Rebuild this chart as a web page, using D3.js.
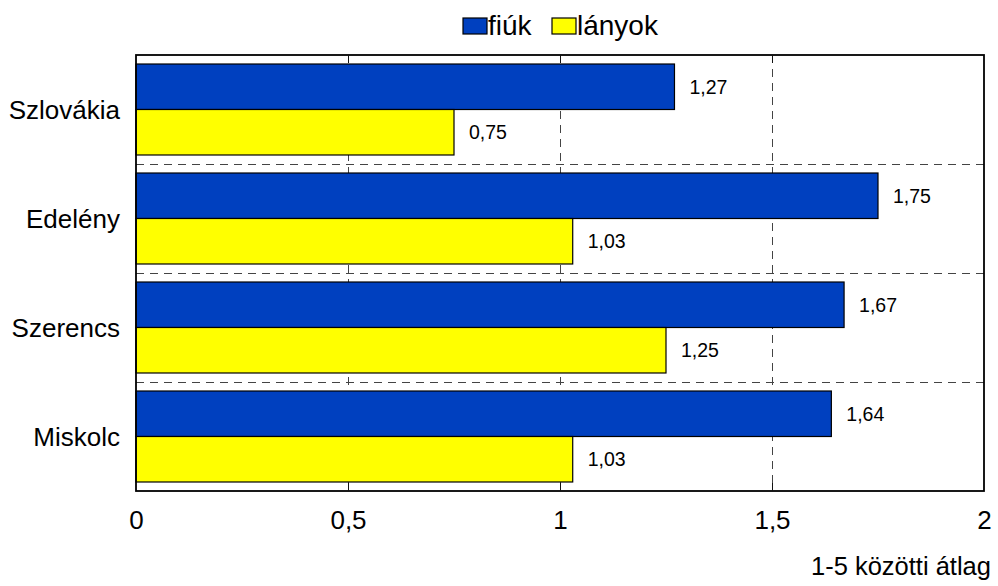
<!DOCTYPE html>
<html>
<head>
<meta charset="utf-8">
<script src="https://cdn.jsdelivr.net/npm/d3@7"></script>
<style>
  html, body { margin: 0; padding: 0; background: #fff; }
  svg { display: block; font-family: Arial, "Liberation Sans", sans-serif; }
</style>
</head>
<body>
<svg id="chart" width="998" height="586"></svg>
<script>
const categories = ["Szlovákia", "Edelény", "Szerencs", "Miskolc"];
const seriesNames = ["fiúk", "lányok"];
const fiuk = [1.27, 1.75, 1.67, 1.64];
const lanyok = [0.75, 1.03, 1.25, 1.03];
const tickValues = [0, 0.5, 1, 1.5, 2];
const tickLabels = ["0", "0,5", "1", "1,5", "2"];
const axisTitle = "1-5 közötti átlag";

const colors = ["#0040BF", "#FFFF00"];
const seriesValues = [fiuk, lanyok];

const svg = d3.select("#chart");
const pLeft = 136, pRight = 984, pTop = 55, pBottom = 491;

const x = d3.scaleLinear().domain([0, 2]).range([pLeft, pRight]);
const y = d3.scaleBand().domain(categories).range([pTop, pBottom]).paddingInner(0).paddingOuter(0);
const inner = d3.scaleBand().domain(seriesNames).range([0, y.bandwidth()]).paddingOuter(0.198).paddingInner(0);

// grid lines (vertical)
svg.append("g").selectAll("line").data(tickValues.slice(1, -1)).join("line")
  .attr("x1", d => Math.round(x(d)) + 0.5).attr("x2", d => Math.round(x(d)) + 0.5)
  .attr("y1", pTop).attr("y2", pBottom)
  .attr("stroke", "#444").attr("stroke-width", 1).attr("stroke-dasharray", "8,6");

// horizontal separators between categories
svg.append("g").selectAll("line").data(categories.slice(1)).join("line")
  .attr("x1", pLeft).attr("x2", pRight)
  .attr("y1", d => Math.round(y(d)) + 0.5).attr("y2", d => Math.round(y(d)) + 0.5)
  .attr("stroke", "#444").attr("stroke-width", 1).attr("stroke-dasharray", "8,6");

// bars
seriesNames.forEach((s, si) => {
  const g = svg.append("g");
  g.selectAll("rect").data(categories).join("rect")
    .attr("x", x(0))
    .attr("y", (c) => y(c) + inner(s))
    .attr("width", (c, i) => x(seriesValues[si][i]) - x(0))
    .attr("height", inner.bandwidth())
    .attr("fill", colors[si])
    .attr("stroke", "#000").attr("stroke-width", 1.2);
  g.selectAll("text").data(categories).join("text")
    .attr("x", (c, i) => x(seriesValues[si][i]) + 15)
    .attr("y", (c) => y(c) + inner(s) + inner.bandwidth() / 2 + 7)
    .attr("font-size", 19.5)
    .attr("fill", "#000")
    .text((c, i) => seriesValues[si][i].toFixed(2).replace(".", ","));
});

// frame
svg.append("rect").attr("x", pLeft).attr("y", pTop).attr("width", pRight - pLeft).attr("height", pBottom - pTop)
  .attr("fill", "none").attr("stroke", "#000").attr("stroke-width", 1.8);

// ticks inside top and bottom
const tickG = svg.append("g");
tickValues.slice(1, -1).forEach(v => {
  const xx = Math.round(x(v)) + 0.5;
  tickG.append("line").attr("x1", xx).attr("x2", xx).attr("y1", pTop).attr("y2", pTop + 8).attr("stroke", "#111");
  tickG.append("line").attr("x1", xx).attr("x2", xx).attr("y1", pBottom - 8).attr("y2", pBottom).attr("stroke", "#111");
});

// x axis labels
const xAxis = d3.axisBottom(x).tickValues(tickValues).tickFormat((d, i) => tickLabels[i]).tickSize(0).tickPadding(0);
const ax = svg.append("g").attr("transform", `translate(0, ${pBottom})`).call(xAxis);
ax.select(".domain").remove();
ax.selectAll("text").attr("font-size", 26).attr("font-family", "Arial, 'Liberation Sans', sans-serif")
  .attr("fill", "#000").attr("dy", null).attr("y", 38);

// category labels
const yAxis = d3.axisLeft(y).tickSize(0).tickPadding(0);
const ay = svg.append("g").attr("transform", `translate(120, 0)`).call(yAxis);
ay.select(".domain").remove();
ay.selectAll("text").attr("font-size", 26).attr("font-family", "Arial, 'Liberation Sans', sans-serif")
  .attr("fill", "#000").attr("dy", "0.36em");

// axis title
svg.append("text").attr("x", 991).attr("y", 575).attr("text-anchor", "end")
  .attr("font-size", 25.5).attr("fill", "#000").text(axisTitle);

// legend
const legendX = [463, 552];
seriesNames.forEach((s, i) => {
  svg.append("rect").attr("x", legendX[i]).attr("y", 18).attr("width", 24).attr("height", 16)
    .attr("fill", colors[i]).attr("stroke", "#000").attr("stroke-width", 1.2);
  svg.append("text").attr("x", legendX[i] + 25).attr("y", 35).attr("font-size", 28).attr("fill", "#000").text(s);
});
</script>
</body>
</html>
